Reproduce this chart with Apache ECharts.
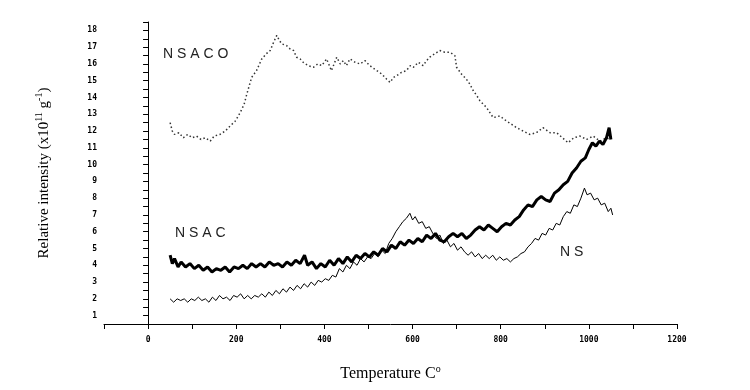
<!DOCTYPE html>
<html>
<head>
<meta charset="utf-8">
<script src="https://cdn.jsdelivr.net/npm/echarts@6/dist/echarts.min.js"></script>
<style>
  html, body { margin: 0; padding: 0; background: #fff; }
  #chart { width: 750px; height: 390px; }
</style>
</head>
<body>
<div id="chart"></div>
<script>
// [temperature °C, relative intensity]
const nsaco = [
  [50, 12.5], [55, 12.0], [60, 11.8], [70, 11.9], [80, 11.6], [90, 11.8], [100, 11.6], [110, 11.7],
  [120, 11.5], [130, 11.6], [141, 11.4], [150, 11.7], [163, 11.8], [175, 12.0], [186, 12.3],
  [198, 12.6], [209, 13.1], [218, 13.6], [224, 14.2], [235, 15.2], [246, 15.6], [258, 16.3],
  [268, 16.6], [277, 16.8], [285, 17.3], [292, 17.7], [298, 17.4], [303, 17.2], [314, 17.1],
  [322, 16.9], [330, 16.8], [337, 16.4], [345, 16.3], [352, 16.1], [363, 15.9], [375, 15.8],
  [385, 16.0], [394, 15.9], [405, 16.3], [416, 15.6], [428, 16.4], [436, 16.0], [443, 16.2],
  [450, 15.9], [458, 16.3], [470, 16.1], [481, 16.0], [492, 16.2], [503, 15.9], [519, 15.6],
  [530, 15.4], [541, 15.1], [549, 14.9], [557, 15.2], [564, 15.3], [575, 15.5], [586, 15.6],
  [595, 15.9], [602, 15.8], [613, 16.1], [624, 15.9], [632, 16.2], [639, 16.4], [650, 16.6],
  [662, 16.8], [673, 16.7], [685, 16.7], [696, 16.5], [700, 15.8], [711, 15.4], [722, 15.1],
  [730, 14.8], [738, 14.4], [746, 14.1], [753, 13.8], [768, 13.4], [783, 12.8], [798, 12.9],
  [813, 12.6], [825, 12.4], [836, 12.2], [851, 12.0], [866, 11.8], [881, 11.9], [896, 12.2],
  [912, 11.9], [927, 11.9], [940, 11.6], [953, 11.3], [966, 11.6], [980, 11.7], [995, 11.5],
  [1010, 11.7], [1025, 11.4], [1040, 11.6], [1048, 11.5]
];

const nsac = [
  [50, 4.6], [55, 4.1], [60, 4.4], [68, 3.9], [75, 4.2], [85, 3.9], [95, 4.1], [105, 3.8],
  [115, 4.0], [125, 3.7], [135, 3.9], [145, 3.6], [155, 3.8], [165, 3.7], [175, 3.9], [185, 3.6],
  [195, 3.9], [205, 3.8], [215, 4.0], [225, 3.8], [235, 4.1], [245, 3.9], [255, 4.1], [265, 3.9],
  [275, 4.2], [285, 4.0], [295, 4.1], [305, 3.9], [315, 4.2], [325, 4.0], [335, 4.3], [345, 4.1],
  [355, 4.6], [362, 4.0], [372, 4.2], [382, 3.8], [392, 4.1], [402, 3.9], [412, 4.3], [422, 4.0],
  [432, 4.4], [442, 4.1], [452, 4.5], [462, 4.2], [472, 4.6], [482, 4.4], [492, 4.7], [502, 4.5],
  [512, 4.8], [522, 4.6], [532, 5.0], [542, 4.8], [552, 5.2], [562, 5.0], [572, 5.4], [582, 5.2],
  [592, 5.5], [602, 5.3], [612, 5.6], [622, 5.4], [632, 5.8], [642, 5.6], [652, 5.9], [662, 5.5],
  [672, 5.4], [682, 5.7], [692, 5.9], [702, 5.7], [712, 5.9], [722, 5.6], [732, 5.8], [742, 6.1],
  [752, 6.3], [762, 6.1], [772, 6.4], [782, 6.2], [792, 6.0], [802, 6.3], [812, 6.5], [822, 6.4],
  [832, 6.7], [842, 6.9], [852, 7.3], [862, 7.6], [872, 7.5], [882, 7.9], [892, 8.1], [902, 7.9],
  [912, 7.8], [922, 8.3], [932, 8.5], [942, 8.8], [952, 9.0], [962, 9.5], [972, 9.8], [982, 10.2],
  [992, 10.4], [1000, 10.9], [1008, 11.3], [1016, 11.1], [1024, 11.4], [1032, 11.2], [1040, 11.6],
  [1046, 12.2], [1050, 11.5]
];

const ns = [
  [50, 2.0], [58, 1.8], [66, 2.0], [74, 1.9], [82, 2.0], [90, 1.8], [98, 2.0], [106, 1.9],
  [114, 2.1], [122, 1.9], [130, 2.0], [138, 1.8], [146, 2.1], [154, 1.9], [162, 2.2], [170, 2.0],
  [178, 2.1], [186, 1.9], [194, 2.2], [202, 2.1], [210, 2.3], [218, 2.0], [226, 2.2], [234, 2.0],
  [242, 2.2], [250, 2.1], [258, 2.3], [266, 2.1], [274, 2.4], [282, 2.2], [290, 2.5], [298, 2.3],
  [306, 2.6], [314, 2.4], [322, 2.7], [330, 2.5], [338, 2.8], [346, 2.6], [354, 2.9], [362, 2.7],
  [370, 3.0], [378, 2.8], [386, 3.1], [394, 3.0], [402, 3.2], [410, 3.1], [418, 3.4], [426, 3.3],
  [434, 3.8], [442, 3.6], [450, 4.0], [458, 3.8], [466, 4.2], [474, 4.0], [482, 4.4], [490, 4.2],
  [498, 4.5], [506, 4.4], [514, 4.7], [522, 4.5], [530, 4.9], [538, 4.7], [546, 5.3], [554, 5.6],
  [562, 6.0], [570, 6.3], [578, 6.6], [586, 6.8], [594, 7.1], [600, 6.7], [606, 6.9], [614, 6.5],
  [622, 6.6], [630, 6.2], [638, 6.3], [646, 5.9], [654, 5.6], [662, 5.8], [670, 5.3], [678, 5.5],
  [686, 5.1], [694, 5.3], [702, 4.9], [710, 5.1], [718, 4.8], [726, 4.6], [734, 4.8], [742, 4.5],
  [750, 4.7], [758, 4.4], [766, 4.6], [774, 4.4], [782, 4.6], [790, 4.3], [798, 4.5], [806, 4.3],
  [814, 4.4], [822, 4.2], [830, 4.4], [838, 4.5], [846, 4.7], [854, 4.8], [862, 5.1], [870, 5.3],
  [878, 5.6], [886, 5.5], [894, 5.9], [902, 5.8], [910, 6.2], [918, 6.1], [926, 6.5], [934, 6.4],
  [942, 6.9], [950, 7.2], [958, 7.1], [966, 7.6], [974, 7.5], [982, 8.0], [990, 8.6], [996, 8.2],
  [1004, 8.3], [1012, 7.9], [1020, 8.0], [1028, 7.6], [1036, 7.7], [1044, 7.2], [1050, 7.4],
  [1054, 7.0]
];

const chart = echarts.init(document.getElementById('chart'));

const tickFont = { color: '#000', fontSize: 8, fontWeight: 'bold', fontFamily: 'DejaVu Sans Mono' };

chart.setOption({
  animation: false,
  backgroundColor: '#fff',
  grid: { left: 104, right: 73, top: 22, bottom: 66 },
  xAxis: {
    type: 'value',
    min: -100,
    max: 1200,
    interval: 100,
    name: '{a|Temperature C}{s|o}',
    nameLocation: 'middle',
    nameGap: 40,
    nameTextStyle: {
      rich: {
        a: { fontFamily: 'Liberation Serif', fontSize: 16, color: '#000', lineHeight: 18, verticalAlign: 'bottom' },
        s: { fontFamily: 'Liberation Serif', fontSize: 10, color: '#000', lineHeight: 10, verticalAlign: 'top' }
      }
    },
    axisLine: { lineStyle: { color: '#000', width: 1 } },
    axisTick: { lineStyle: { color: '#000' }, length: 5 },
    axisLabel: {
      ...tickFont,
      margin: 12,
      formatter: (v) => (v % 200 === 0 ? String(v) : '')
    },
    splitLine: { show: false }
  },
  yAxis: {
    type: 'value',
    min: 0.5,
    max: 18.5,
    interval: 0.5,
    name: '{a|Relative intensity (x10}{s|11}{a| g}{s|-1}{a|)}',
    nameLocation: 'middle',
    nameGap: 52,
    nameRotate: 90,
    nameTextStyle: {
      rich: {
        a: { fontFamily: 'Liberation Serif', fontSize: 15, color: '#000', lineHeight: 18, verticalAlign: 'bottom' },
        s: { fontFamily: 'Liberation Serif', fontSize: 10, color: '#000', lineHeight: 10, verticalAlign: 'top' }
      }
    },
    axisLine: { show: true, lineStyle: { color: '#000', width: 1 } },
    axisTick: { show: true, lineStyle: { color: '#000' }, length: 5 },
    axisLabel: {
      ...tickFont,
      margin: 7,
      formatter: (v) => (Number.isInteger(v) ? String(v) : '')
    },
    splitLine: { show: false }
  },
  graphic: [
    { type: 'text', left: 163, top: 47, style: { text: 'N S A C O', fill: '#222', font: '14px "Liberation Sans"' } },
    { type: 'text', left: 175, top: 226, style: { text: 'N S A C', fill: '#222', font: '14px "Liberation Sans"' } },
    { type: 'text', left: 560, top: 245, style: { text: 'N S', fill: '#222', font: '14px "Liberation Sans"' } }
  ],
  series: [
    {
      name: 'NSACO',
      type: 'line',
      data: nsaco,
      showSymbol: false,
      lineStyle: { color: '#333', width: 1.5, type: [1.5, 2.5] }
    },
    {
      name: 'NSAC',
      type: 'line',
      data: nsac,
      showSymbol: false,
      lineStyle: { color: '#000', width: 3 }
    },
    {
      name: 'NS',
      type: 'line',
      data: ns,
      showSymbol: false,
      lineStyle: { color: '#000', width: 1 }
    }
  ]
});
</script>
</body>
</html>
